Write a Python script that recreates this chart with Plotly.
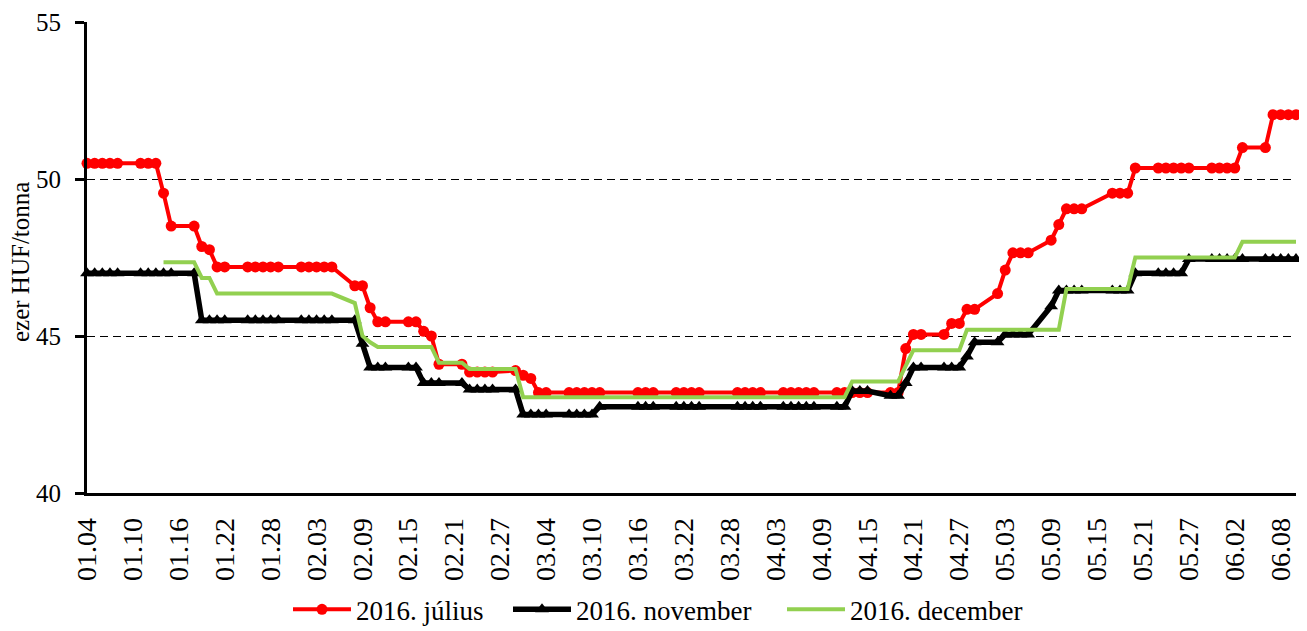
import plotly.graph_objects as go

# Trading days (business days, Hungarian holidays excluded)
dates = [
    "2016-01-04", "2016-01-05", "2016-01-06", "2016-01-07", "2016-01-08",
    "2016-01-11", "2016-01-12", "2016-01-13", "2016-01-14", "2016-01-15",
    "2016-01-18", "2016-01-19", "2016-01-20", "2016-01-21", "2016-01-22",
    "2016-01-25", "2016-01-26", "2016-01-27", "2016-01-28", "2016-01-29",
    "2016-02-01", "2016-02-02", "2016-02-03", "2016-02-04", "2016-02-05",
    "2016-02-08", "2016-02-09", "2016-02-10", "2016-02-11", "2016-02-12",
    "2016-02-15", "2016-02-16", "2016-02-17", "2016-02-18", "2016-02-19",
    "2016-02-22", "2016-02-23", "2016-02-24", "2016-02-25", "2016-02-26",
    "2016-02-29", "2016-03-01", "2016-03-02", "2016-03-03", "2016-03-04",
    "2016-03-07", "2016-03-08", "2016-03-09", "2016-03-10", "2016-03-11",
    "2016-03-16", "2016-03-17", "2016-03-18",
    "2016-03-21", "2016-03-22", "2016-03-23", "2016-03-24",
    "2016-03-29", "2016-03-30", "2016-03-31", "2016-04-01",
    "2016-04-04", "2016-04-05", "2016-04-06", "2016-04-07", "2016-04-08",
    "2016-04-11", "2016-04-12", "2016-04-13", "2016-04-14", "2016-04-15",
    "2016-04-18", "2016-04-19", "2016-04-20", "2016-04-21", "2016-04-22",
    "2016-04-25", "2016-04-26", "2016-04-27", "2016-04-28", "2016-04-29",
    "2016-05-02", "2016-05-03", "2016-05-04", "2016-05-05", "2016-05-06",
    "2016-05-09", "2016-05-10", "2016-05-11", "2016-05-12", "2016-05-13",
    "2016-05-17", "2016-05-18", "2016-05-19", "2016-05-20",
    "2016-05-23", "2016-05-24", "2016-05-25", "2016-05-26", "2016-05-27",
    "2016-05-30", "2016-05-31", "2016-06-01", "2016-06-02", "2016-06-03",
    "2016-06-06", "2016-06-07", "2016-06-08", "2016-06-09", "2016-06-10",
]

julius = [
    50.5, 50.5, 50.5, 50.5, 50.5,
    50.5, 50.5, 50.5, 49.55, 48.5,
    48.5, 47.85, 47.75, 47.2, 47.2,
    47.2, 47.2, 47.2, 47.2, 47.2,
    47.2, 47.2, 47.2, 47.2, 47.2,
    46.6, 46.6, 45.9, 45.45, 45.45,
    45.45, 45.45, 45.15, 45.0, 44.1,
    44.1, 43.85, 43.85, 43.85, 43.85,
    43.9, 43.75, 43.65, 43.2, 43.2,
    43.2, 43.2, 43.2, 43.2, 43.2,
    43.2, 43.2, 43.2,
    43.2, 43.2, 43.2, 43.2,
    43.2, 43.2, 43.2, 43.2,
    43.2, 43.2, 43.2, 43.2, 43.2,
    43.2, 43.2, 43.2, 43.2, 43.2,
    43.2, 43.2, 44.6, 45.05, 45.05,
    45.05, 45.4, 45.4, 45.85, 45.85,
    46.35, 47.1, 47.65, 47.65, 47.65,
    48.05, 48.55, 49.05, 49.05, 49.05,
    49.55, 49.55, 49.55, 50.35,
    50.35, 50.35, 50.35, 50.35, 50.35,
    50.35, 50.35, 50.35, 50.35, 51.0,
    51.0, 52.05, 52.05, 52.05, 52.05,
]

november = [
    47.0, 47.0, 47.0, 47.0, 47.0,
    47.0, 47.0, 47.0, 47.0, 47.0,
    47.0, 45.5, 45.5, 45.5, 45.5,
    45.5, 45.5, 45.5, 45.5, 45.5,
    45.5, 45.5, 45.5, 45.5, 45.5,
    45.5, 44.75, 44.0, 44.0, 44.0,
    44.0, 44.0, 43.5, 43.5, 43.5,
    43.5, 43.3, 43.3, 43.3, 43.3,
    43.3, 42.5, 42.5, 42.5, 42.5,
    42.5, 42.5, 42.5, 42.5, 42.75,
    42.75, 42.75, 42.75,
    42.75, 42.75, 42.75, 42.75,
    42.75, 42.75, 42.75, 42.75,
    42.75, 42.75, 42.75, 42.75, 42.75,
    42.75, 42.75, 43.25, 43.25, 43.25,
    43.1, 43.1, 43.5, 44.0, 44.0,
    44.0, 44.0, 44.0, 44.35, 44.8,
    44.8, 45.05, 45.05, 45.05, 45.05,
    45.95, 46.45, 46.45, 46.45, 46.45,
    46.45, 46.45, 46.45, 47.0,
    47.0, 47.0, 47.0, 47.0, 47.45,
    47.45, 47.45, 47.45, 47.45, 47.45,
    47.45, 47.45, 47.45, 47.45, 47.45,
]

december = [
    None, None, None, None, None,
    None, None, None, 47.35, 47.35,
    47.35, 46.85, 46.85, 46.35, 46.35,
    46.35, 46.35, 46.35, 46.35, 46.35,
    46.35, 46.35, 46.35, 46.35, 46.35,
    46.05, 45.0, 44.8, 44.65, 44.65,
    44.65, 44.65, 44.65, 44.65, 44.15,
    44.15, 43.95, 43.95, 43.95, 43.95,
    43.95, 43.05, 43.05, 43.05, 43.05,
    43.05, 43.05, 43.05, 43.05, 43.05,
    43.05, 43.05, 43.05,
    43.05, 43.05, 43.05, 43.05,
    43.05, 43.05, 43.05, 43.05,
    43.05, 43.05, 43.05, 43.05, 43.05,
    43.05, 43.05, 43.55, 43.55, 43.55,
    43.55, 43.55, 44.05, 44.55, 44.55,
    44.55, 44.55, 44.55, 45.2, 45.2,
    45.2, 45.2, 45.2, 45.2, 45.2,
    45.2, 45.2, 46.5, 46.5, 46.5,
    46.5, 46.5, 46.5, 47.5,
    47.5, 47.5, 47.5, 47.5, 47.5,
    47.5, 47.5, 47.5, 47.5, 48.0,
    48.0, 48.0, 48.0, 48.0, 48.0,
]

series_names = ["2016. július", "2016. november", "2016. december"]
y_title = "ezer HUF/tonna"
x_range = ["2016-01-04", "2016-06-10"]
y_ticks = [40, 45, 50, 55]

FONT = "Liberation Serif"
DAY = 86400000
W, H = 1299, 623  # page body adds an 8px offset
ML, MR, MT, MB = 79, 11, 14, 138
PW = W - ML - MR

fig = go.Figure()
fig.add_trace(go.Scatter(
    x=dates, y=julius, name=series_names[0], mode="lines+markers",
    line=dict(color="#FF0000", width=4),
    marker=dict(symbol="circle", size=11, color="#FF0000"),
    cliponaxis=False, legend="legend",
))
fig.add_trace(go.Scatter(
    x=dates, y=november, name=series_names[1], mode="lines+markers",
    line=dict(color="#000000", width=5.5),
    marker=dict(symbol="triangle-up", size=12, color="#000000"),
    cliponaxis=False, legend="legend2",
))
fig.add_trace(go.Scatter(
    x=dates, y=december, name=series_names[2], mode="lines",
    line=dict(color="#92D050", width=4),
    connectgaps=False,
    cliponaxis=False, legend="legend3",
))

leg_common = dict(
    orientation="h", xref="container", yref="container",
    xanchor="left", y=0.034, yanchor="middle",
    font=dict(family=FONT, size=27, color="black"),
    itemwidth=58, bgcolor="rgba(0,0,0,0)",
)

annotations = [
    dict(text=str(v), x=0, xref="paper", y=v, yref="y",
         xanchor="right", yanchor="middle", xshift=-24, showarrow=False,
         font=dict(family=FONT, size=25, color="black"))
    for v in y_ticks
]
annotations.append(dict(
    text=y_title, x=(12 - ML) / PW, xref="paper", y=(493 - 262) / 471, yref="paper",
    xanchor="center", yanchor="middle", textangle=-90, showarrow=False,
    font=dict(family=FONT, size=25, color="black"),
))

fig.update_layout(
    width=W, height=H,
    margin=dict(l=ML, r=MR, t=MT, b=MB, autoexpand=False),
    paper_bgcolor="white", plot_bgcolor="white",
    font=dict(family=FONT, color="black", size=26),
    showlegend=True,
    legend=dict(x=280 / W, **leg_common),
    legend2=dict(x=500 / W, **leg_common),
    legend3=dict(x=774 / W, **leg_common),
    annotations=annotations,
    xaxis=dict(
        type="date", range=x_range,
        tick0=x_range[0], dtick=6 * DAY, tickformat="%m.%d",
        tickangle=-90, ticks="outside", ticklen=6, tickcolor="rgba(0,0,0,0)",
        ticklabelstandoff=5,
        tickfont=dict(family=FONT, size=28, color="black"),
        showline=True, linecolor="black", linewidth=2.5,
        showgrid=False, zeroline=False,
    ),
    xaxis2=dict(
        type="date", range=x_range, overlaying="x", anchor="y", side="bottom",
        tick0=x_range[0], dtick=4 * DAY,
        ticks="outside", ticklen=6, tickwidth=2.5, tickcolor="black",
        showticklabels=False, showline=False, showgrid=False, zeroline=False,
    ),
    yaxis=dict(
        range=[40, 55], tickvals=y_ticks, showticklabels=False,
        ticks="outside", ticklen=9, tickwidth=2.5, tickcolor="black",
        showline=True, linecolor="black", linewidth=2.5,
        showgrid=True, gridcolor="black", gridwidth=1.4, griddash="8px,5px",
        zeroline=False,
    ),
)

fig.write_html("out.html")
